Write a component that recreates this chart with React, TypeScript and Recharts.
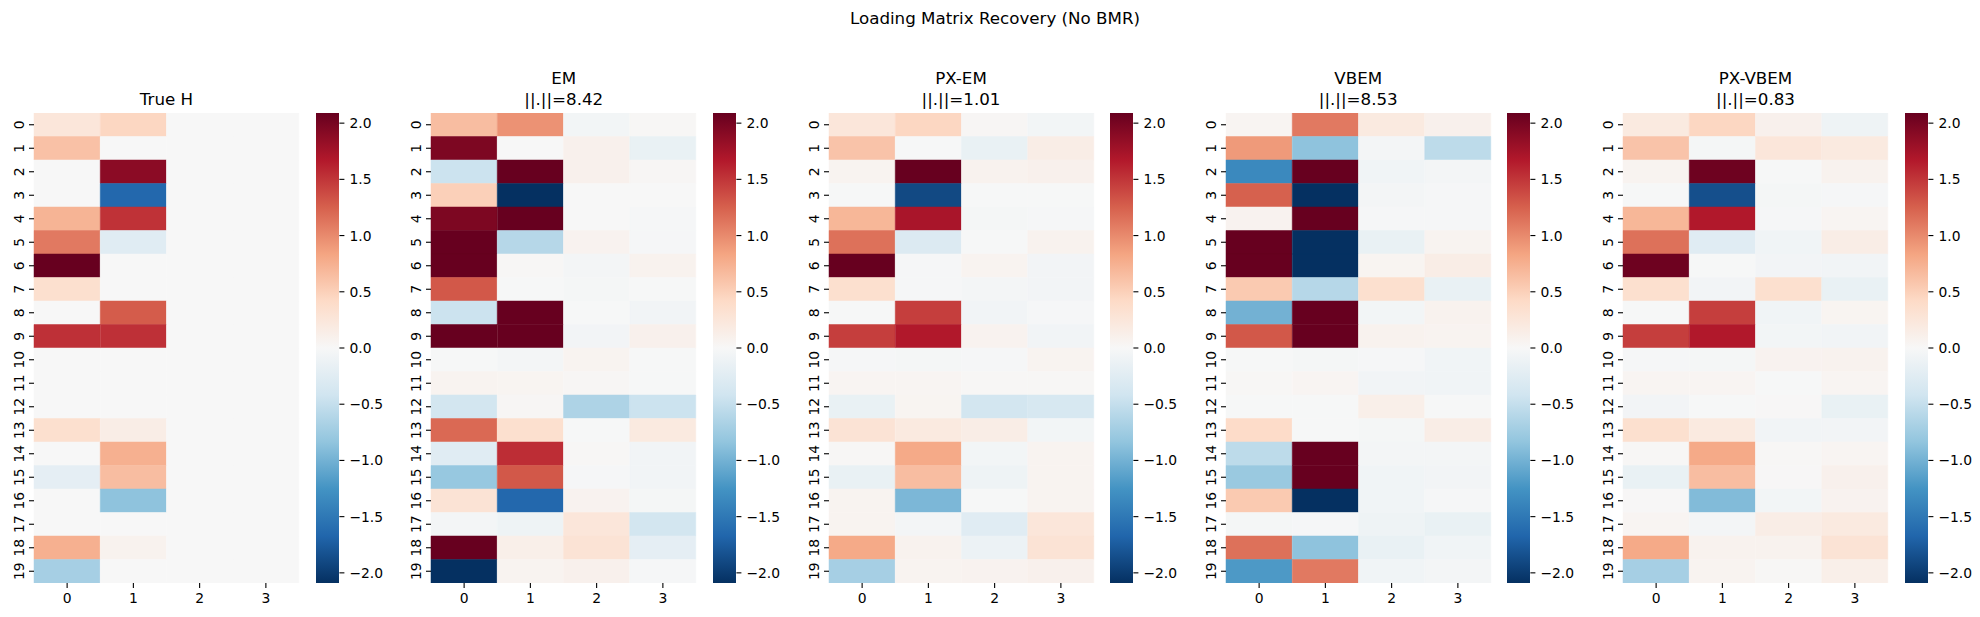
import React from "react";
import { BarChart, Bar, XAxis, YAxis, Cell } from "recharts";

const FONT = "DejaVu Sans";

// rows / columns of the loading matrices
const ROW_LABELS = [0, 1, 2, 3, 4, 5, 6, 7, 8, 9, 10, 11, 12, 13, 14, 15, 16, 17, 18, 19];
const COL_LABELS = ["0", "1", "2", "3"];
const CBAR_TICKS = [-2, -1.5, -1, -0.5, 0, 0.5, 1, 1.5, 2];
const V_MAX = 2.09;

// RdBu_r, low -> high
const RDBU_R = [
  "#053061", "#2166ac", "#4393c3", "#92c5de", "#d1e5f0", "#f7f7f7",
  "#fddbc7", "#f4a582", "#d6604d", "#b2182b", "#67001f",
];

const trueH = [
  [0.25, 0.45, 0, 0],
  [0.62, 0, 0, 0],
  [0, 1.89, 0, 0],
  [0, -1.65, 0, 0],
  [0.72, 1.52, 0, 0],
  [1.1, -0.25, 0, 0],
  [2.09, 0, 0, 0],
  [0.35, 0, 0, 0],
  [0, 1.28, 0, 0],
  [1.53, 1.53, 0, 0],
  [0, 0, 0, 0],
  [0, 0, 0, 0],
  [0, 0, 0, 0],
  [0.35, 0.15, 0, 0],
  [0, 0.75, 0, 0],
  [-0.2, 0.65, 0, 0],
  [0, -0.85, 0, 0],
  [0, 0, 0, 0],
  [0.75, 0.08, 0, 0],
  [-0.7, 0, 0, 0],
];

const emH = [
  [0.65, 0.95, -0.05, 0.02],
  [1.97, 0.0, 0.1, -0.15],
  [-0.45, 2.6, 0.1, 0.03],
  [0.5, -2.5, 0.0, 0.0],
  [1.97, 2.8, 0.0, -0.02],
  [2.7, -0.6, 0.07, -0.02],
  [3.1, 0.02, -0.04, 0.08],
  [1.3, -0.01, -0.03, -0.01],
  [-0.45, 2.9, -0.01, -0.07],
  [2.5, 3.3, -0.06, 0.1],
  [-0.01, -0.04, 0.06, -0.01],
  [0.06, 0.05, 0.03, -0.01],
  [-0.4, 0.03, -0.65, -0.45],
  [1.2, 0.35, -0.01, 0.2],
  [-0.25, 1.55, 0.02, -0.07],
  [-0.8, 1.3, -0.02, -0.07],
  [0.3, -1.65, 0.07, -0.03],
  [-0.04, -0.1, 0.25, -0.4],
  [2.6, 0.12, 0.3, -0.2],
  [-2.4, 0.06, 0.1, -0.02],
];

const pxEmH = [
  [0.25, 0.45, 0.03, -0.05],
  [0.6, -0.01, -0.15, 0.15],
  [0.06, 2.1, 0.08, 0.1],
  [-0.01, -1.9, -0.01, -0.01],
  [0.7, 1.72, -0.03, -0.02],
  [1.15, -0.3, -0.01, 0.08],
  [2.15, -0.02, 0.06, -0.06],
  [0.35, -0.02, -0.04, -0.06],
  [-0.01, 1.45, -0.07, -0.02],
  [1.45, 1.68, 0.07, -0.07],
  [-0.02, -0.03, -0.02, 0.06],
  [0.04, 0.04, 0.02, 0.02],
  [-0.15, 0.05, -0.4, -0.35],
  [0.3, 0.2, 0.15, -0.05],
  [0.02, 0.8, -0.05, 0.06],
  [-0.15, 0.65, -0.1, 0.06],
  [0.06, -0.95, -0.01, 0.06],
  [0.06, -0.04, -0.25, 0.25],
  [0.8, 0.08, -0.12, 0.3],
  [-0.7, 0.06, 0.07, 0.1],
];

const vbemH = [
  [0.04, 1.1, 0.2, 0.1],
  [0.9, -0.85, -0.04, -0.55],
  [-1.35, 2.7, -0.08, -0.04],
  [1.25, -2.6, -0.04, -0.02],
  [0.07, 2.5, -0.02, -0.02],
  [2.8, -2.9, -0.15, 0.06],
  [3.0, -3.1, 0.05, 0.15],
  [0.55, -0.6, 0.35, -0.15],
  [-1.0, 3.2, -0.05, 0.08],
  [1.3, 2.9, 0.08, 0.06],
  [-0.01, -0.03, -0.02, -0.08],
  [0.02, 0.04, -0.07, -0.08],
  [-0.01, -0.01, 0.12, -0.01],
  [0.4, -0.01, -0.03, 0.15],
  [-0.55, 2.8, -0.04, -0.04],
  [-0.78, 2.6, -0.08, -0.06],
  [0.55, -2.7, -0.08, -0.02],
  [-0.03, -0.02, -0.1, -0.15],
  [1.15, -0.85, -0.15, -0.08],
  [-1.2, 1.1, -0.08, -0.04],
];

const pxVbemH = [
  [0.2, 0.45, 0.1, -0.1],
  [0.6, -0.03, 0.25, 0.2],
  [0.06, 2.05, -0.01, 0.08],
  [-0.01, -1.85, -0.03, -0.02],
  [0.7, 1.68, -0.02, 0.04],
  [1.15, -0.25, -0.08, 0.15],
  [2.05, -0.01, -0.06, -0.07],
  [0.35, -0.06, 0.35, -0.15],
  [-0.01, 1.45, -0.08, 0.05],
  [1.45, 1.68, -0.05, -0.07],
  [-0.02, -0.03, 0.07, 0.08],
  [0.04, 0.04, -0.01, 0.04],
  [-0.06, -0.01, 0.01, -0.15],
  [0.35, 0.2, -0.07, -0.06],
  [0.02, 0.8, 0.02, 0.04],
  [-0.15, 0.65, 0.01, 0.1],
  [0.01, -0.92, -0.05, 0.07],
  [0.04, -0.04, 0.15, 0.2],
  [0.8, 0.08, 0.08, 0.3],
  [-0.7, 0.06, 0.02, 0.12],
];

const MATRICES = [trueH, emH, pxEmH, vbemH, pxVbemH];
const METHODS = ["True H", "EM", "PX-EM", "VBEM", "PX-VBEM"];
const NORMS = [null, "8.42", "1.01", "8.53", "0.83"];

const hexToRgb = (h: string) => [1, 3, 5].map((i) => parseInt(h.slice(i, i + 2), 16));

function cmap(v: number) {
  const t = Math.min(1, Math.max(0, (v + V_MAX) / (2 * V_MAX)));
  const pos = t * (RDBU_R.length - 1);
  const i = Math.min(Math.floor(pos), RDBU_R.length - 2);
  const f = pos - i;
  const a = hexToRgb(RDBU_R[i]);
  const b = hexToRgb(RDBU_R[i + 1]);
  const c = a.map((x, k) => Math.round(x + (b[k] - x) * f));
  return `rgb(${c[0]},${c[1]},${c[2]})`;
}

const fmtTick = (v: number) => v.toFixed(1).replace("-", "\u2212");

const RotTick = (props: any) => {
  const { x, y, payload } = props;
  return (
    <text
      x={x}
      y={y}
      transform={`rotate(-90, ${x}, ${y})`}
      textAnchor="middle"
      fontSize={13.9}
      fill="#000"
      fontFamily={FONT}
    >
      {Math.floor(payload.value)}
    </text>
  );
};

function Heatmap({ matrix, left }: { matrix: number[][]; left: number }) {
  const data = COL_LABELS.map((c) => {
    const d: Record<string, string | number> = { col: c };
    ROW_LABELS.forEach((r) => (d[`r${r}`] = 1));
    return d;
  });
  return (
    <div style={{ position: "absolute", left: left - 34, top: 103 }}>
      <BarChart
        width={300}
        height={510}
        data={data}
        margin={{ top: 10, right: 1, bottom: 0, left: 0 }}
        barCategoryGap={0}
        barGap={0}
      >
        <XAxis
          dataKey="col"
          height={30}
          axisLine={false}
          tickSize={5}
          tickMargin={5}
          interval={0}
          tickLine={{ stroke: "#000", strokeWidth: 1.1 }}
          tick={{ fontSize: 13.9, fill: "#000", fontFamily: FONT }}
        />
        <YAxis
          type="number"
          domain={[0, 20]}
          reversed
          allowDataOverflow
          ticks={ROW_LABELS.map((r) => r + 0.5)}
          interval={0}
          width={34}
          axisLine={false}
          tickSize={5}
          tickMargin={5}
          tickLine={{ stroke: "#000", strokeWidth: 1.1 }}
          tick={RotTick}
        />
        {ROW_LABELS.map((r) => (
          <Bar key={r} dataKey={`r${r}`} stackId="h" isAnimationActive={false}>
            {COL_LABELS.map((c, ci) => {
              const col = cmap(matrix[r][ci]);
              return <Cell key={c} fill={col} stroke={col} strokeWidth={0.5} />;
            })}
          </Bar>
        ))}
      </BarChart>
    </div>
  );
}

function ColorBar({ left, id }: { left: number; id: string }) {
  const data = [{ k: "c", v: [-V_MAX, V_MAX] }];
  return (
    <div style={{ position: "absolute", left: left + 281.6, top: 103 }}>
      <BarChart
        width={73.4}
        height={490}
        data={data}
        margin={{ top: 10, right: 0, bottom: 10, left: 0 }}
        barCategoryGap={0}
        barGap={0}
      >
        <defs>
          <linearGradient id={id} x1="0" y1="1" x2="0" y2="0">
            {RDBU_R.map((c, i) => (
              <stop key={i} offset={`${i * 10}%`} stopColor={c} />
            ))}
          </linearGradient>
        </defs>
        <XAxis dataKey="k" hide />
        <YAxis
          orientation="right"
          type="number"
          domain={[-V_MAX, V_MAX]}
          allowDataOverflow
          ticks={CBAR_TICKS}
          interval={0}
          width={50}
          axisLine={false}
          tickSize={5}
          tickMargin={5}
          tickFormatter={fmtTick}
          tickLine={{ stroke: "#000", strokeWidth: 1.1 }}
          tick={{ fontSize: 13.9, fill: "#000", fontFamily: FONT }}
        />
        <Bar dataKey="v" fill={`url(#${id})`} isAnimationActive={false} />
      </BarChart>
    </div>
  );
}

const PANEL_LEFTS = [34, 431.25, 828.5, 1225.75, 1623];
const titleStyle: React.CSSProperties = {
  position: "absolute",
  width: 265,
  textAlign: "center",
  fontFamily: FONT,
  fontSize: 16.7,
  lineHeight: "21.5px",
  color: "#000",
  whiteSpace: "nowrap",
};

export default function App() {
  return (
    <div
      style={{
        position: "absolute",
        left: 0,
        top: 0,
        width: 1980,
        height: 617,
        background: "#fff",
        overflow: "hidden",
      }}
    >
      <div
        style={{
          position: "absolute",
          left: 795,
          top: 7.5,
          width: 400,
          textAlign: "center",
          fontFamily: FONT,
          fontSize: 16.7,
          lineHeight: "21.5px",
          color: "#000",
        }}
      >
        Loading Matrix Recovery (No BMR)
      </div>
      {MATRICES.map((m, i) => (
        <React.Fragment key={METHODS[i]}>
          <div style={{ ...titleStyle, left: PANEL_LEFTS[i], top: NORMS[i] ? 67.5 : 89 }}>
            {METHODS[i]}
            {NORMS[i] && (
              <>
                <br />
                {`||.||=${NORMS[i]}`}
              </>
            )}
          </div>
          <Heatmap matrix={m} left={PANEL_LEFTS[i]} />
          <ColorBar left={PANEL_LEFTS[i]} id={`cbar${i}`} />
        </React.Fragment>
      ))}
    </div>
  );
}
